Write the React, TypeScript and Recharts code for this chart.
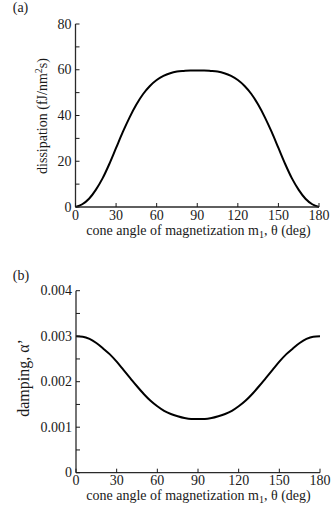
import React from "react";
import { LineChart, Line, XAxis, YAxis } from "recharts";

const angles = [0, 5, 10, 15, 20, 25, 30, 35, 40, 45, 50, 55, 60, 65, 70, 75, 80, 85, 90, 95, 100, 105, 110, 115, 120, 125, 130, 135, 140, 145, 150, 155, 160, 165, 170, 175, 180];
const dissipation = [0, 1.2, 3.6, 7.5, 12.5, 18.8, 25.8, 32.8, 39.2, 44.8, 49.4, 52.9, 55.5, 57.3, 58.5, 59.2, 59.5, 59.7, 59.7, 59.7, 59.5, 59.2, 58.5, 57.3, 55.5, 52.9, 49.4, 44.8, 39.2, 32.8, 25.8, 18.8, 12.5, 7.5, 3.6, 1.2, 0];
const damping = [0.003, 0.00299, 0.00294, 0.00285, 0.00273, 0.0026, 0.00244, 0.00226, 0.00208, 0.0019, 0.00173, 0.00158, 0.00146, 0.00136, 0.00129, 0.00124, 0.0012, 0.00118, 0.00118, 0.00118, 0.0012, 0.00124, 0.00129, 0.00136, 0.00146, 0.00158, 0.00173, 0.0019, 0.00208, 0.00226, 0.00244, 0.0026, 0.00273, 0.00285, 0.00294, 0.00299, 0.003];

const xTicks = [0, 30, 60, 90, 120, 150, 180];
const yTicksA = [0, 10, 20, 30, 40, 50, 60, 70, 80];
const yLabelsA = ["0", "", "20", "", "40", "", "60", "", "80"];
const yTicksB = [0, 0.0005, 0.001, 0.0015, 0.002, 0.0025, 0.003, 0.0035, 0.004];
const yLabelsB = ["0", "", "0.001", "", "0.002", "", "0.003", "", "0.004"];

const dataA = angles.map((a, i) => ({ angle: a, value: dissipation[i] }));
const dataB = angles.map((a, i) => ({ angle: a, value: damping[i] }));

const FONT = "'Liberation Serif', 'Times New Roman', serif";
const INK = "#1a1a1a";
const TL = 4;
const tickText: React.CSSProperties = { fontFamily: FONT, fontSize: 14, fill: INK };

const BottomTick = (props: any) => {
  const { x, y, payload } = props;
  return (
    <g>
      <line x1={x} x2={x} y1={y} y2={y - TL} stroke={INK} strokeWidth={1} />
      <text x={x} y={y + 12.5} textAnchor="middle" style={tickText}>
        {payload.value}
      </text>
    </g>
  );
};

const TopTick = (props: any) => {
  const { x, y } = props;
  return <line x1={x} x2={x} y1={y} y2={y + TL} stroke={INK} strokeWidth={1} />;
};

const makeLeftTick = (ticks: number[], labels: string[]) => (props: any) => {
  const { x, y, payload } = props;
  const idx = ticks.findIndex((t) => Math.abs(t - payload.value) < 1e-9);
  const lab = idx >= 0 ? labels[idx] : "";
  return (
    <g>
      <line x1={x} x2={x + TL} y1={y} y2={y} stroke={INK} strokeWidth={1} />
      {lab !== "" && (
        <text x={x - 4} y={y} dy="0.33em" textAnchor="end" style={tickText}>
          {lab}
        </text>
      )}
    </g>
  );
};

const RightTick = (props: any) => {
  const { x, y } = props;
  return <line x1={x} x2={x - TL} y1={y} y2={y} stroke={INK} strokeWidth={1} />;
};

const LeftTickA = makeLeftTick(yTicksA, yLabelsA);
const LeftTickB = makeLeftTick(yTicksB, yLabelsB);

const axisLine = { stroke: "#2a2a2a", strokeWidth: 1.3 };

type PanelProps = {
  data: any[];
  yDomain: [number, number];
  yTicks: number[];
  LeftTick: any;
  height: number;
  margin: any;
  leftWidth: number;
  bottomHeight: number;
};

const Panel = ({ data, yDomain, yTicks, LeftTick, height, margin, leftWidth, bottomHeight }: PanelProps) => (
  <LineChart width={333} height={height} data={data} margin={margin}>
    <XAxis
      dataKey="angle"
      type="number"
      domain={[0, 180]}
      ticks={xTicks}
      interval={0}
      tickSize={0}
      tickMargin={0}
      tickLine={false}
      height={bottomHeight}
      axisLine={axisLine}
      tick={BottomTick}
    />
    <XAxis
      xAxisId="top"
      orientation="top"
      dataKey="angle"
      type="number"
      domain={[0, 180]}
      ticks={xTicks}
      interval={0}
      tickSize={0}
      tickMargin={0}
      tickLine={false}
      height={0}
      axisLine={axisLine}
      tick={TopTick}
    />
    <YAxis
      type="number"
      domain={yDomain}
      ticks={yTicks}
      interval={0}
      tickSize={0}
      tickMargin={0}
      tickLine={false}
      width={leftWidth}
      axisLine={axisLine}
      tick={LeftTick}
    />
    <YAxis
      yAxisId="right"
      orientation="right"
      type="number"
      domain={yDomain}
      ticks={yTicks}
      interval={0}
      tickSize={0}
      tickMargin={0}
      tickLine={false}
      width={0}
      axisLine={axisLine}
      tick={RightTick}
    />
    <Line
      dataKey="value"
      type="monotone"
      stroke="#000"
      strokeWidth={2}
      dot={false}
      isAnimationActive={false}
    />
  </LineChart>
);

const textBase: React.CSSProperties = {
  position: "absolute",
  fontFamily: FONT,
  color: INK,
  lineHeight: 1,
  whiteSpace: "nowrap",
};

const XLabel = ({ cx, cy }: { cx: number; cy: number }) => (
  <div style={{ ...textBase, left: cx, top: cy, fontSize: 14, transform: "translate(-50%, -50%)" }}>
    cone angle of magnetization m<sub style={{ fontSize: 10, verticalAlign: "-0.25em" }}>1</sub>, θ (deg)
  </div>
);

export default function App() {
  return (
    <div style={{ position: "absolute", left: 0, top: 0, width: 333, height: 514, background: "#fff" }}>
      <div style={{ position: "absolute", left: 0, top: 0 }}>
        <Panel
          data={dataA}
          yDomain={[0, 80]}
          yTicks={yTicksA}
          LeftTick={LeftTickA}
          height={250}
          margin={{ top: 24, right: 14, bottom: 0, left: 0 }}
          leftWidth={75.5}
          bottomHeight={43}
        />
      </div>
      <div style={{ position: "absolute", left: 0, top: 260 }}>
        <Panel
          data={dataB}
          yDomain={[0, 0.004]}
          yTicks={yTicksB}
          LeftTick={LeftTickB}
          height={254}
          margin={{ top: 30.7, right: 13, bottom: 0, left: 0 }}
          leftWidth={76}
          bottomHeight={41.3}
        />
      </div>
      <div style={{ ...textBase, left: 20.5, top: 8, fontSize: 14, transform: "translate(-50%, -50%)" }}>(a)</div>
      <div style={{ ...textBase, left: 21, top: 276, fontSize: 14, transform: "translate(-50%, -50%)" }}>(b)</div>
      <XLabel cx={198.5} cy={231.5} />
      <XLabel cx={198.5} cy={497} />
      <div style={{ ...textBase, left: 42, top: 115.5, fontSize: 14, transform: "translate(-50%, -50%) rotate(-90deg)" }}>
        dissipation (fJ/nm<sup style={{ fontSize: 10, verticalAlign: "0.45em" }}>2</sup>s)
      </div>
      <div style={{ ...textBase, left: 24, top: 378, fontSize: 16, transform: "translate(-50%, -50%) rotate(-90deg)" }}>
        damping, α’
      </div>
    </div>
  );
}
